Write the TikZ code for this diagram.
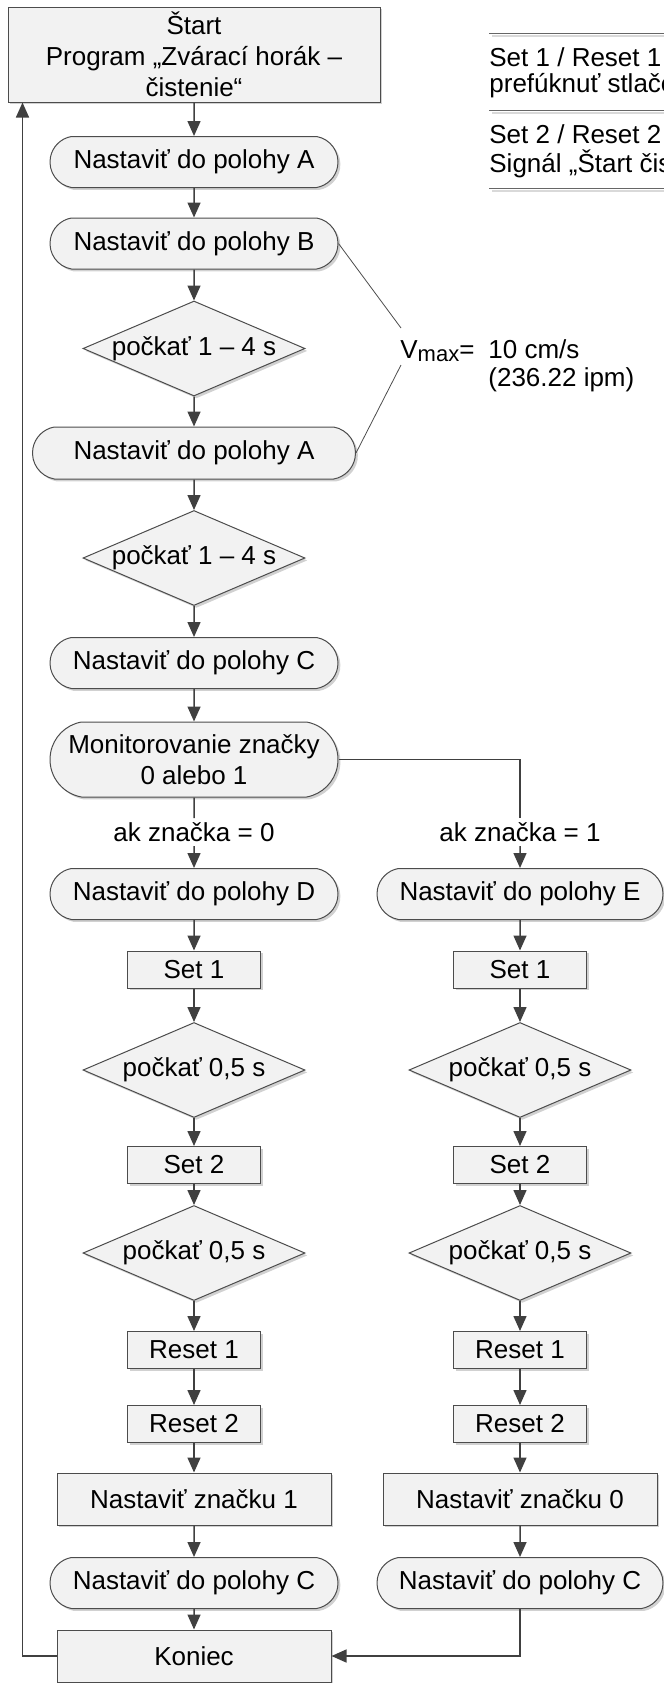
\documentclass[tikz,border=0pt]{standalone}
\usepackage{fontspec}
\setmainfont{Liberation Sans}
\usetikzlibrary{arrows.meta,shapes.geometric,shapes.misc,shadows}

\begin{document}
\begin{tikzpicture}[x=0.5pt,y=-0.5pt,font=\fontsize{13}{15.5}\selectfont,
  base/.style={draw=black!70,line width=0.5pt,fill=black!5,drop shadow={shadow xshift=1.2pt,shadow yshift=-1.2pt,fill=black!18,opacity=1}},
  box/.style={base,rectangle,align=center,inner sep=0pt},
  small/.style={box,minimum width=66.5pt,minimum height=18.5pt},
  wide/.style={box,minimum width=137pt,minimum height=26pt},
  term/.style={base,rounded rectangle,rounded rectangle arc length=160,minimum width=144pt,minimum height=25.5pt,inner sep=0pt,align=center},
  wait/.style={base,diamond,aspect=2.34,minimum width=111pt,minimum height=47.5pt,inner sep=0pt},
  lbl/.style={inner sep=2pt},
  note/.style={anchor=base west,inner sep=0pt},
  conn/.style={draw=black!75,line width=0.75pt},
  arr/.style={conn,-{Triangle[length=7.5pt,width=6.5pt]}},
  rule/.style={draw=black!60,line width=0.5pt},
  ruleshade/.style={draw=black!15,line width=0.8pt}]
\useasboundingbox (0,0) rectangle (664,1683);
% main column
\node[box,minimum width=186pt,minimum height=47.5pt] (start) at (194,54.5) {Štart\\Program „Zvárací horák –\\čistenie“};
\node[term] (posA) at (194,162) {Nastaviť do polohy A};
\node[term] (posB) at (194,243.5) {Nastaviť do polohy B};
\node[wait] (wait1) at (194,348.5) {počkať 1 – 4 s};
\node[term,minimum width=161.5pt,minimum height=26pt] (posA2) at (194,453) {Nastaviť do polohy A};
\node[wait] (wait2) at (194,558) {počkať 1 – 4 s};
\node[term] (posC) at (194,663) {Nastaviť do polohy C};
\node[term,minimum height=37.5pt] (mon) at (194,759.5) {Monitorovanie značky\\0 alebo 1};
\node[lbl] (if0) at (194,832) {ak značka = 0};
\node[lbl] (if1) at (520,832) {ak značka = 1};
% branch 0
\node[term] (posD) at (194,894) {Nastaviť do polohy D};
\node[small] (set1L) at (194,969.5) {Set 1};
\node[wait] (waitL1) at (194,1070) {počkať 0,5 s};
\node[small] (set2L) at (194,1165) {Set 2};
\node[wait] (waitL2) at (194,1253) {počkať 0,5 s};
\node[small] (reset1L) at (194,1350) {Reset 1};
\node[small] (reset2L) at (194,1424) {Reset 2};
\node[wide] (markL) at (194,1499) {Nastaviť značku 1};
\node[term] (posCL) at (194,1583) {Nastaviť do polohy C};
\node[wide] (end) at (194,1656) {Koniec};
% branch 1
\node[term,minimum width=143pt] (posE) at (520,894) {Nastaviť do polohy E};
\node[small] (set1R) at (520,969.5) {Set 1};
\node[wait] (waitR1) at (520,1070) {počkať 0,5 s};
\node[small] (set2R) at (520,1165) {Set 2};
\node[wait] (waitR2) at (520,1253) {počkať 0,5 s};
\node[small] (reset1R) at (520,1350) {Reset 1};
\node[small] (reset2R) at (520,1424) {Reset 2};
\node[wide] (markR) at (520,1499) {Nastaviť značku 0};
\node[term,minimum width=143pt] (posCR) at (520,1583) {Nastaviť do polohy C};
% speed note
\node[note] (vmax) at (400,358) {V\raisebox{-1.5pt}{\fontsize{11}{12}\selectfont max}=};
\node[note] (speed) at (488,358) {10 cm/s};
\node[note] (ipm) at (488,386) {(236.22 ipm)};
\coordinate (vt) at (401,328);
\coordinate (vb) at (401,365);
\draw[black!70,line width=0.4pt] (posB.east) -- (vt);
\draw[black!70,line width=0.4pt] (vb) -- (posA2.east);
% legend
\draw[ruleshade] (492,36) -- (664,36);
\draw[rule] (489,33) -- (664,33);
\node[anchor=west,inner sep=0pt] (key1) at (489,57) {Set 1 / Reset 1};
\node[anchor=west,inner sep=0pt] (key1t) at (489,86) {prefúknuť stlačeným vzduchom};
\draw[ruleshade] (492,113) -- (664,113);
\draw[rule] (489,110) -- (664,110);
\node[anchor=west,inner sep=0pt] (key2) at (489,134) {Set 2 / Reset 2};
\node[anchor=west,inner sep=0pt] (key2t) at (489,164) {Signál „Štart čistenia“};
\draw[ruleshade] (492,191) -- (664,191);
\draw[rule] (489,188) -- (664,188);
% connectors
\draw[arr] (start) -- (posA);
\draw[arr] (posA) -- (posB);
\draw[arr] (posB) -- (wait1);
\draw[arr] (wait1) -- (posA2);
\draw[arr] (posA2) -- (wait2);
\draw[arr] (wait2) -- (posC);
\draw[arr] (posC) -- (mon);
\draw[conn] (mon) -- (if0);
\draw[arr] (if0) -- (posD);
\draw[conn] (mon.east) -| (if1.north);
\draw[arr] (if1) -- (posE);
\draw[arr] (posD) -- (set1L);
\draw[arr] (set1L) -- (waitL1);
\draw[arr] (waitL1) -- (set2L);
\draw[arr] (set2L) -- (waitL2);
\draw[arr] (waitL2) -- (reset1L);
\draw[arr] (reset1L) -- (reset2L);
\draw[arr] (reset2L) -- (markL);
\draw[arr] (markL) -- (posCL);
\draw[arr] (posCL) -- (end);
\draw[arr] (posE) -- (set1R);
\draw[arr] (set1R) -- (waitR1);
\draw[arr] (waitR1) -- (set2R);
\draw[arr] (set2R) -- (waitR2);
\draw[arr] (waitR2) -- (reset1R);
\draw[arr] (reset1R) -- (reset2R);
\draw[arr] (reset2R) -- (markR);
\draw[arr] (markR) -- (posCR);
\draw[arr] (posCR) |- (end);
\draw[arr] (end.west) -| ([xshift=7.5pt]start.south west);
\end{tikzpicture}
\end{document}
